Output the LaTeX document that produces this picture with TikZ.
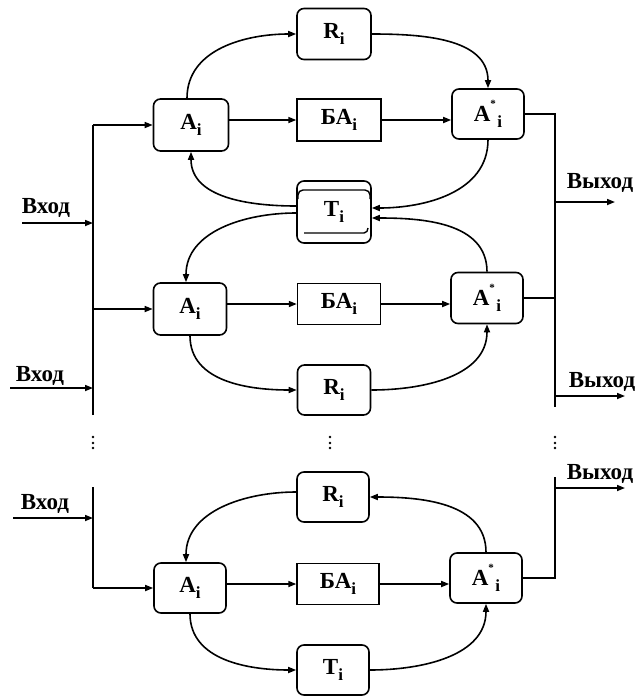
\documentclass[tikz,border=0pt]{standalone}
\usepackage{fontspec}
\setmainfont{Liberation Serif}
\usetikzlibrary{arrows.meta,calc}

\newcommand\ix[1]{\raisebox{-0.26em}{\fontsize{17}{17}\selectfont #1}}
\newcommand\astar{A\raisebox{0.6em}{\fontsize{11}{11}\selectfont *}\hspace{1.5pt}\ix{i}}

\tikzset{
  lbl/.style={font=\fontsize{23}{23}\selectfont\bfseries, inner sep=0pt},
  rbox/.style={lbl, draw, line width=1.6pt, rounded corners=7pt},
  sbox/.style={lbl, draw, line width=1.4pt},
  wire/.style={line width=1.6pt},
  arr/.style={wire, -{Triangle[length=8pt,width=6pt]}},
  io/.style={font=\fontsize{23}{23}\selectfont\bfseries, inner sep=0pt},
}

\begin{document}
\begin{tikzpicture}[x=1pt,y=-1pt]
\useasboundingbox (0,0) rectangle (637,697);

% ---------- upper block ----------
\node[rbox, minimum width=75pt, minimum height=52pt] (A1) at (191,125) {A\ix{i}};
\node[rbox, minimum width=74pt, minimum height=51pt] (R1) at (334,34) {R\ix{i}};
\node[sbox, minimum width=84pt, minimum height=42pt] (B1) at (339,120) {БА\ix{i}};
\node[rbox, minimum width=72pt, minimum height=50pt] (S1) at (488,114) {\astar};

% ---------- shared T block ----------
\node[rbox, minimum width=74pt, minimum height=62pt] (T1) at (334,212) {T\ix{i}};
\draw[line width=1.4pt] (298,199) -- (298,195) arc[start angle=180,end angle=90,radius=5pt]
  -- (365,190) arc[start angle=90,end angle=0,radius=5pt] -- (370,199);
\draw[line width=1.4pt] (304,233) -- (364,233) to[out=0,in=-90] (368,228);

% ---------- middle block ----------
\node[rbox, minimum width=73pt, minimum height=52pt] (A2) at (190,309) {A\ix{i}};
\node[sbox, minimum width=83pt, minimum height=41pt] (B2) at (339,304) {БА\ix{i}};
\node[rbox, minimum width=72pt, minimum height=51pt] (S2) at (487,298) {\astar};
\node[rbox, minimum width=73pt, minimum height=50pt] (R2) at (334,390) {R\ix{i}};

% ---------- lower block ----------
\node[rbox, minimum width=72pt, minimum height=50pt] (R3) at (333,497) {R\ix{i}};
\node[rbox, minimum width=72pt, minimum height=50pt] (A3) at (190,588) {A\ix{i}};
\node[sbox, minimum width=82pt, minimum height=41pt] (B3) at (338,584) {БА\ix{i}};
\node[rbox, minimum width=72pt, minimum height=50pt] (S3) at (486,578) {\astar};
\node[rbox, minimum width=72pt, minimum height=50pt] (T3) at (333,670) {T\ix{i}};

% ---------- straight flows ----------
\foreach \a/\b/\c in {A1/B1/S1, A2/B2/S2, A3/B3/S3}{
  \draw[arr] (\a.east |- \b.west) -- (\b.west);
  \draw[arr] (\b.east) -- (\b.east -| \c.west);
}

% ---------- curved flows, upper block ----------
\draw[arr] ([xshift=-4pt]A1.north) to[out=90,in=180] (R1.west);
\draw[arr] (R1.east) to[out=0,in=90] (S1.north);
\draw[arr] (S1.south) to[out=-90,in=0] ([yshift=4pt]T1.east);
\draw[arr] ([yshift=6pt]T1.west) to[out=180,in=-90] (A1.south);

% ---------- curved flows, middle block ----------
\draw[arr] ([yshift=-1pt]T1.west) to[out=180,in=90] ([xshift=-4pt]A2.north);
\draw[arr] (S2.north) to[out=90,in=0] ([yshift=-6pt]T1.east);
\draw[arr] (A2.south) to[out=-90,in=180] (R2.west);
\draw[arr] (R2.east) to[out=0,in=-90] (S2.south);

% ---------- curved flows, lower block ----------
\draw[arr] (S3.north) to[out=90,in=0] (R3.east);
\draw[arr] ([yshift=5pt]R3.west) to[out=180,in=90] ([xshift=-4pt]A3.north);
\draw[arr] (A3.south) to[out=-90,in=180] (T3.west);
\draw[arr] (T3.east) to[out=0,in=-90] (S3.south);

% ---------- input buses ----------
\coordinate (inTop) at (93,125);
\coordinate (inBot) at (93,415);
\draw[wire] (inBot) -- (inTop);
\draw[arr] (inTop) -- (A1.west);
\draw[arr] (inTop |- A2.west) -- (A2.west);
\coordinate (inTop3) at (93,487);
\draw[wire] (inTop3) -- (inTop3 |- A3.west);
\draw[arr] (inTop3 |- A3.west) -- (A3.west);

\coordinate (in1) at (22,223);
\coordinate (in2) at (10,388);
\coordinate (in3) at (13,518);
\draw[arr] (in1) -- (inTop |- in1);
\draw[arr] (in2) -- (inTop |- in2);
\draw[arr] (in3) -- (inTop3 |- in3);
\node[io] (vx1) at (46,208) {Вход};
\node[io] (vx2) at (40,376) {Вход};
\node[io] (vx3) at (45,504) {Вход};

% ---------- output buses ----------
\coordinate (outBus) at (555,114);
\coordinate (outBusEnd) at (555,407);
\draw[wire] (S1.east) -- (outBus) -- (outBusEnd);
\draw[wire] (S2.east) -- (S2.east -| outBus);
\coordinate (outBus3) at (555,477);
\draw[wire] (S3.east) -- (S3.east -| outBus3) -- (outBus3);

\coordinate (out1) at (615,202);
\coordinate (out2) at (625,396);
\coordinate (out3) at (625,488);
\draw[arr] (outBus |- out1) -- (out1);
\draw[arr] (outBus |- out2) -- (out2);
\draw[arr] (outBus3 |- out3) -- (out3);
\node[io] (vy1) at (600,183) {Выход};
\node[io] (vy2) at (602,382) {Выход};
\node[io] (vy3) at (600,474) {Выход};

% ---------- continuation dots ----------
\foreach \x in {93,330,555}{
  \foreach \y in {437,443,448} \fill (\x,\y) circle[radius=1.3pt];
}
\end{tikzpicture}
\end{document}
